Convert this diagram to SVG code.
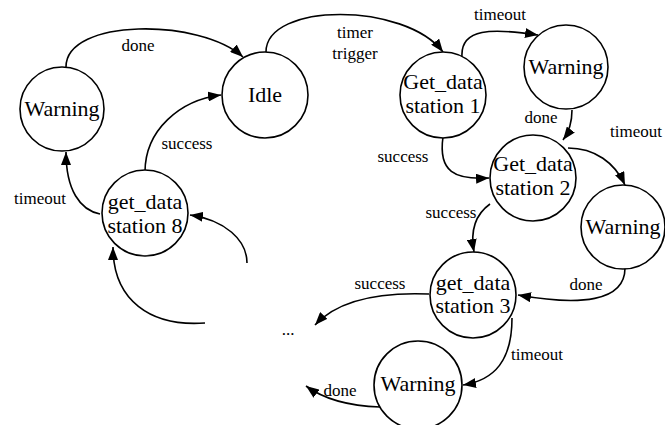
<svg xmlns="http://www.w3.org/2000/svg" width="665" height="425" viewBox="0 0 665 425" font-family="'Liberation Serif', 'DejaVu Serif', 'Times New Roman', serif">
<defs>
<style>
text{font-family:'Liberation Serif','DejaVu Serif','Times New Roman',serif;fill:#000;text-anchor:middle}
.n{fill:#fff;stroke:#000;stroke-width:1.6}
.t{font-size:22px}
.l{font-size:17px}
.e{fill:none;stroke:#000;stroke-width:1.6;marker-end:url(#ah)}
</style>
<marker id="ah" markerUnits="userSpaceOnUse" markerWidth="14" markerHeight="10" refX="13" refY="5" orient="auto">
<path d="M0,0 L13,5 L0,10 z" fill="#000"/>
</marker>
</defs>
<g id="connectors">
<path class="e" d="M 66 67 C 66 18, 200 18, 243 57"/>
<path class="e" d="M 266 52 C 266 2, 405 2, 443 52"/>
<path class="e" d="M 462 57 C 460 28, 492 28, 538 35"/>
<path class="e" d="M 572 110 C 572 124, 569 132, 563 140"/>
<path class="e" d="M 443 137 C 438 172, 455 180, 489 178"/>
<path class="e" d="M 568 148 C 595 148, 615 163, 625 185"/>
<path class="e" d="M 490 204 C 476 214, 470 230, 474 252"/>
<path class="e" d="M 625 268 C 625 302, 580 306, 518 295"/>
<path class="e" d="M 429 294 C 380 292, 338 300, 315 325"/>
<path class="e" d="M 512 318 C 512 360, 495 380, 463 385"/>
<path class="e" d="M 380 407 C 350 406, 325 400, 306 386"/>
<path class="e" d="M 247 263 C 247 240, 225 220, 190 215"/>
<path class="e" d="M 205 323 C 150 327, 113 300, 113 247"/>
<path class="e" d="M 100 214 C 80 210, 66 190, 66 152"/>
<path class="e" d="M 145 172 C 145 130, 180 100, 221 95"/>
</g>
<g id="labels">
<text class="l" x="138" y="51">done</text>
<text class="l" x="187" y="149">success</text>
<text class="l" x="40" y="204">timeout</text>
<text class="l" x="355" y="38">timer</text>
<text class="l" x="355" y="59">trigger</text>
<text class="l" x="500" y="20">timeout</text>
<text class="l" x="541" y="123">done</text>
<text class="l" x="636" y="137">timeout</text>
<text class="l" x="403" y="162">success</text>
<text class="l" x="451" y="218">success</text>
<text class="l" x="586" y="290">done</text>
<text class="l" x="380" y="289">success</text>
<text class="l" x="537" y="360">timeout</text>
<text class="l" x="340" y="396">done</text>
<text class="l" x="288" y="335">...</text>
</g>
<g id="warning-left"><circle class="n" cx="62" cy="109" r="42"/><text class="t" x="62" y="116">Warning</text></g>
<g id="idle"><circle class="n" cx="265" cy="95" r="43"/><text class="t" x="265" y="102">Idle</text></g>
<g id="gd1"><circle class="n" cx="443" cy="95" r="43"/><text class="t" x="443" y="89">Get_data</text><text class="t" x="443" y="113">station 1</text></g>
<g id="warning-tr"><circle class="n" cx="566" cy="67" r="42"/><text class="t" x="566" y="74">Warning</text></g>
<g id="gd2"><circle class="n" cx="533" cy="178" r="43"/><text class="t" x="533" y="171">Get_data</text><text class="t" x="533" y="195">station 2</text></g>
<g id="warning-right"><circle class="n" cx="623" cy="227" r="42"/><text class="t" x="623" y="234">Warning</text></g>
<g id="gd3"><circle class="n" cx="473" cy="295" r="43"/><text class="t" x="473" y="290">get_data</text><text class="t" x="473" y="313">station 3</text></g>
<g id="warning-bottom"><circle class="n" cx="418" cy="385" r="44"/><text class="t" x="418" y="391">Warning</text></g>
<g id="gd8"><circle class="n" cx="145" cy="213" r="43"/><text class="t" x="145" y="209">get_data</text><text class="t" x="145" y="233">station 8</text></g>
</svg>
